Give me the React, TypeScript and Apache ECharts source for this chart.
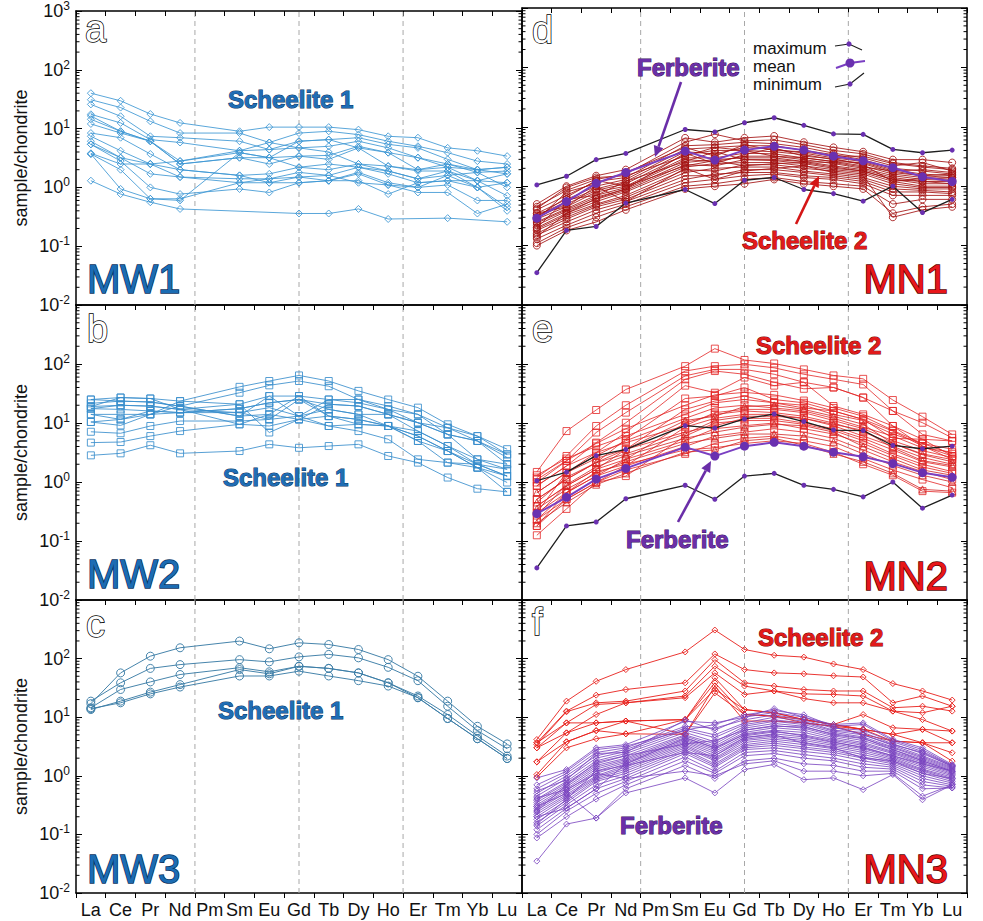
import React, { useEffect, useRef } from "react";
import * as echarts from "echarts";

const CATEGORIES = ["La", "Ce", "Pr", "Nd", "Pm", "Sm", "Eu", "Gd", "Tb", "Dy", "Ho", "Er", "Tm", "Yb", "Lu"];
const Y_MIN = 0.01;
const Y_MAX = 1000;
const DASH_X = [3.5, 7, 10.5];

// (a) MW1 Scheelite 1
const MW1_SCHEELITE = [
  [40, 29.7, 17.7, 12.5, null, 9.0, 10.6, 10.6, 10.6, 9.6, 7.4, 7.0, 4.7, 4.2, 3.4],
  [31, 22.8, 13.3, 8.4, null, 8.4, 5.8, 8.4, 9.0, 7.9, 6.1, 5.0, 3.9, 2.8, 2.5],
  [25.8, 16.2, 7.4, 7.0, null, 6.1, 4.4, 6.1, 6.5, 7.0, 5.4, 4.7, 3.0, 2.0, 2.2],
  [17.5, 12.5, 6.5, 5.8, null, 4.2, 5.8, 4.7, 5.0, 6.1, 4.7, 3.2, 2.5, 1.8, 1.9],
  [16.4, 9.0, 6.1, 2.8, null, 3.9, 3.2, 3.4, 3.5, 5.0, 3.9, 2.0, 2.2, 1.3, 1.7],
  [14.4, 9.0, 6.1, 2.5, null, 3.2, 2.5, 3.4, 3.0, 4.7, 2.3, 1.9, 1.9, 1.0, 1.2],
  [8.4, 7.0, 3.7, 2.0, null, 1.6, 1.7, 2.2, 2.0, 2.5, 1.9, 1.4, 1.6, 1.8, 1.0],
  [7.4, 4.2, 2.5, 1.5, null, 1.4, 1.4, 1.8, 1.6, 2.2, 1.7, 1.2, 1.3, 1.3, 0.72],
  [6.1, 3.2, 1.7, 1.5, null, 1.2, 1.2, 1.5, 1.3, 1.8, 1.2, 1.0, 1.1, 0.6, 0.6],
  [5.4, 2.8, 1.0, 0.77, null, 0.94, 0.82, 1.2, 1.3, 1.7, 1.1, 0.82, 0.82, 0.36, 0.52],
  [3.8, 2.5, 2.5, 2.8, null, 4.2, 4.4, 4.7, 4.0, 2.5, 2.3, 2.0, 2.5, 2.0, 1.7],
  [3.7, 2.0, 0.64, 0.6, null, 3.9, 3.2, 6.1, 6.5, 4.7, 3.9, 3.2, 2.2, 2.0, 2.2],
  [1.3, 0.77, 0.56, 0.43, null, null, null, 0.36, 0.36, 0.43, 0.29, null, 0.3, null, 0.26],
  [5.4, 3.2, 2.5, 2.0, null, 1.6, 1.2, 1.2, 1.3, 1.3, 0.77, 1.2, 1.3, 1.0, 0.46],
  [3.7, 0.94, 0.64, 0.64, null, 1.2, 1.4, 1.5, 1.6, 1.2, 1.1, 1.0, 1.6, 1.0, 0.4],
  [12, 8.4, 6.1, 2.5, null, 3.2, 3.2, 2.2, 2.5, 2.2, 1.9, 1.4, 1.9, 1.3, 1.2],
];

// (b) MW2 Scheelite 1
const MW2_SCHEELITE = [
  [25, 27, 26, 23.5, null, 41, 51.5, 64, 51.5, 35, 25, 18.2, 9.5, 6.0, 3.6],
  [21.5, 23.5, 22.7, 19.3, null, 32.6, 43.5, 51.5, 42, 25, 19.4, 14, 8.3, 4.96, 2.94],
  [19, 20, 19.3, 17, null, 20.8, 28.6, 28.6, 25, 22, 17, 14, 6.4, 4.96, 2.6],
  [17.5, 17, 16, 15, null, 17.5, 22, 25, 20.8, 19.4, 14, 10.1, 6.4, 2.42, 2.0],
  [14, 14, 14, 15, null, 15, 18.2, 13.1, 17, 14, 14, 7.3, 4.07, 2.42, 1.64],
  [10.4, 11.5, 14, 19.3, null, 13.1, 14, 11.5, 13.1, 11.5, 8.9, 6.0, 3.35, 2.0, 1.26],
  [7.1, 6.7, 8.9, 10.8, null, 10.8, 11.5, 13.1, 8.9, 9.5, 8.9, 4.96, 3.35, 1.75, 0.98],
  [4.65, 4.76, 6.0, 7.3, null, 9.5, 8.9, 11.5, 8.9, 7.3, 5.3, 2.42, 2.13, 1.75, 0.68],
  [2.83, 3.06, 4.2, 3.06, null, 3.35, 4.35, 3.8, 4.07, 4.35, 2.76, 2.13, 1.19, 0.77, 0.68],
  [17.5, 20, 19.3, 17, null, 15, 11.5, 25, 17, 14, 8.9, 7.3, 4.07, 2.0, 1.64],
  [25, 23.5, 22.7, 19.3, null, 13.1, 28.6, 13.1, 25, 25, 17, 10.1, 8.3, 6.0, 2.94],
  [10.4, 9.1, 14, 23.5, null, 20.8, 6.9, 11.5, 20.8, 19.4, 14, 10.1, 6.4, 4.96, 2.0],
  [19, 27, 26, 17, null, 9.5, 14, 28.6, 13.1, 9.5, 8.9, 6.0, 3.35, 1.75, 1.26],
  [14, 11.5, 16, 15, null, 17.5, 22, 25, 13.1, 11.5, 8.9, 4.96, 2.13, 2.0, 1.26],
];

// (c) MW3 Scheelite 1
const MW3_SCHEELITE = [
  [17, 57, 110, 153, null, 199, 147, 186, 174, 143, 96, 50, 18.8, 7.0, 3.5],
  [18.8, 38.6, 68, 79, null, 96, 88, 107, 118, 103, 71, 42, 15.4, 5.9, 2.9],
  [14.5, 29.7, 40, 53.5, null, 70, 59.5, 74, 68, 57, 38.6, 23, 11.1, 4.8, 2.17],
  [13.5, 18.8, 26.8, 36, null, 65, 55, 74, 68, 57, 38.6, 21.5, 9.5, 4.3, 1.97],
  [14, 17.6, 25, 32.7, null, 50.5, 50.5, 61, 50.5, 42, 34, 21.5, 9.5, 4.3, 1.97],
];

// (d) MN1 Scheelite 2
const MN1_SCHEELITE2 = [
  [0.5, 1.0, 1.5, 1.9, null, 6.5, 5.5, 6.5, 7.0, 5.5, 4.5, 3.8, 2.8, 2.8, 2.5],
  [0.45, 0.85, 1.3, 1.6, null, 5.5, 7.5, 5.8, 6.0, 5.0, 4.0, 3.5, 2.5, 2.2, 2.0],
  [0.4, 0.7, 1.2, 1.4, null, 4.8, 5.0, 5.5, 5.2, 4.5, 3.6, 3.0, 2.2, 2.5, 1.8],
  [0.35, 0.6, 1.0, 1.3, null, 4.2, 4.5, 4.8, 4.8, 4.0, 3.4, 2.8, 2.0, 1.8, 1.6],
  [0.32, 0.55, 0.9, 1.2, null, 3.8, 3.5, 4.5, 4.2, 3.6, 3.0, 2.6, 1.9, 1.6, 1.5],
  [0.3, 0.5, 0.85, 1.1, null, 3.4, 4.0, 4.0, 3.8, 3.4, 2.8, 2.4, 1.7, 1.5, 1.4],
  [0.28, 0.45, 0.8, 1.0, null, 3.0, 3.0, 3.6, 3.5, 3.0, 2.6, 2.2, 1.6, 1.4, 1.3],
  [0.25, 0.42, 0.7, 0.95, null, 2.8, 2.6, 3.2, 3.2, 2.8, 2.4, 2.0, 1.5, 1.3, 1.25],
  [0.24, 0.4, 0.65, 0.9, null, 2.5, 2.8, 3.0, 3.0, 2.6, 2.2, 1.9, 1.4, 1.2, 1.2],
  [0.22, 0.38, 0.6, 0.85, null, 2.3, 2.2, 2.8, 2.7, 2.4, 2.0, 1.8, 1.3, 1.1, 1.1],
  [0.2, 0.35, 0.55, 0.8, null, 2.1, 2.4, 2.5, 2.5, 2.2, 1.9, 1.7, 1.2, 1.0, 1.0],
  [0.19, 0.33, 0.5, 0.7, null, 1.9, 1.8, 2.3, 2.3, 2.0, 1.8, 1.6, 1.1, 0.95, 0.95],
  [0.18, 0.3, 0.48, 0.65, null, 1.7, 2.0, 2.1, 2.1, 1.8, 1.6, 1.4, 1.0, 0.9, 0.9],
  [0.16, 0.28, 0.45, 0.6, null, 1.5, 1.5, 1.9, 1.9, 1.7, 1.5, 1.3, 0.9, 0.85, 0.8],
  [0.15, 0.25, 0.4, 0.55, null, 1.3, 1.6, 1.7, 1.7, 1.5, 1.4, 1.2, 0.8, 0.8, 0.75],
  [0.13, 0.22, 0.35, 0.5, null, 1.15, 1.3, 1.5, 1.6, 1.4, 1.3, 1.1, 0.7, 0.7, 0.7],
  [0.11, 0.2, 0.3, 0.45, null, 1.0, 1.1, 1.3, 1.4, 1.2, 1.1, 1.0, 0.5, 0.6, 0.6],
  [0.1, 0.18, 0.25, 0.4, null, 0.9, 1.0, 1.1, 1.3, 1.1, 1.0, 0.9, 0.35, 0.45, 0.5],
  [0.42, 0.95, 1.4, 1.5, null, 3.2, 4.5, 4.0, 3.2, 3.0, 2.6, 2.5, 1.8, 1.9, 1.7],
  [0.27, 0.8, 1.1, 1.7, null, 4.5, 3.2, 5.0, 4.0, 3.8, 3.2, 3.2, 2.4, 2.1, 1.9],
  [0.2, 0.6, 0.7, 1.2, null, 2.6, 3.8, 2.8, 2.8, 2.6, 2.5, 2.1, 1.8, 1.5, 1.6],
  [0.35, 0.45, 1.0, 0.55, null, 2.0, 1.3, 1.8, 2.0, 2.2, 1.7, 1.5, 0.3, 0.4, 0.45],
  [0.14, 0.35, 0.62, 0.9, null, 3.6, 2.4, 3.4, 4.4, 3.2, 2.9, 2.3, 1.2, 1.35, 1.4],
  [0.3, 0.65, 1.25, 1.0, null, 2.2, 2.7, 2.2, 2.4, 2.5, 2.1, 1.8, 1.3, 1.2, 1.1],
];

// (e) MN2 Scheelite 2 (squares)
const MN2_SCHEELITE2 = [
  [1.48, 7.3, 16.6, 37, null, 92, 182, 117, 102, 81, 64, 56, 24.5, 12.8, 6.4],
  [1.19, 2.76, 8.9, 20, null, 76, 92, 99, 86, 67, 55, 45, 16, 10.1, 5.6],
  [0.98, 2.27, 6.9, 15, null, 63, 81, 81, 67, 49, 40, 27, 16, 6.4, 4.96],
  [0.86, 1.87, 4.65, 10.1, null, 55, 76, 67, 49, 38, 40, 27, 8.9, 5.3, 4.96],
  [0.66, 1.44, 3.15, 6.9, null, 43, 32.6, 59, 43, 49, 19.4, 14, 8.9, 4.07, 2.76],
  [0.51, 1.11, 2.13, 5.3, null, 26, 28.6, 40, 25, 22, 16, 11.5, 7.3, 4.07, 2.42],
  [0.39, 0.86, 1.64, 3.57, null, 17, 23.5, 28.6, 22, 18, 16, 11.5, 5.5, 5.3, 2.76],
  [1.3, 2.5, 4.0, 6.0, null, 14, 22, 25, 22, 20, 14, 11, 6.5, 4.5, 3.0],
  [0.3, 1.44, 2.8, 5.0, null, 12, 18, 20, 18, 16, 12, 8.5, 6.0, 3.8, 3.2],
  [0.23, 0.66, 1.26, 2.42, null, 10, 14, 16, 15, 13, 10, 7.0, 4.5, 3.0, 2.4],
  [0.18, 0.51, 0.98, 1.87, null, 8.5, 12, 14, 14, 12, 9.0, 6.0, 4.0, 2.6, 2.0],
  [0.125, 0.35, 0.98, 1.26, null, 6.0, 10, 11, 11, 9.5, 7.5, 5.0, 3.0, 2.0, 1.5],
  [0.51, 1.11, 2.13, 3.57, null, 7.0, 9, 12, 12, 10, 8, 5.5, 3.5, 2.2, 1.8],
  [0.39, 0.86, 1.64, 2.42, null, 5.0, 8, 9, 10, 8, 6.5, 4.5, 2.8, 1.8, 1.4],
  [0.3, 0.66, 1.26, 1.87, null, 4.0, 6.0, 7.0, 8.0, 7.0, 5.5, 3.5, 2.2, 1.5, 1.1],
  [0.23, 0.51, 0.98, 1.6, null, 3.0, 4.5, 5.5, 6.0, 5.0, 4.0, 2.5, 1.6, 1.1, 0.8],
  [0.18, 0.66, 1.5, 2.0, null, 3.5, 3.8, 4.5, 5.0, 4.5, 3.2, 2.0, 1.3, 0.7, 0.66],
  [0.86, 1.87, 3.15, 4.65, null, 9.0, 15, 17, 17, 15, 11, 8, 5.0, 3.4, 2.6],
  [1.1, 2.3, 4.5, 8, null, 20, 30, 33, 30, 24, 18, 13, 7.5, 4.5, 3.6],
];
// (e) MN2 Scheelite 2 (triangles)
const MN2_SCHEELITE2_TRI = [
  [0.66, 1.44, 2.5, 3.57, null, 11, 13, 19, 20, 17, 13, 9.5, 4.5, 2.9, 2.2],
  [0.45, 1.2, 2.13, 3.0, null, 6.5, 11, 13, 13, 12, 9.5, 7.5, 3.8, 2.3, 1.9],
  [0.27, 0.9, 1.8, 2.8, null, 5.5, 7.0, 8.5, 9.5, 9.0, 7.0, 4.0, 2.5, 1.6, 1.3],
  [0.35, 0.75, 1.4, 2.2, null, 4.5, 5.5, 6.5, 6.5, 6.0, 4.8, 3.0, 1.9, 1.3, 1.0],
  [0.2, 0.45, 0.9, 1.4, null, 3.2, 3.5, 5.0, 5.5, 4.2, 3.0, 2.2, 1.4, 0.75, 0.7],
];

// (f) MN3 Scheelite 2
const MN3_SCHEELITE2 = [
  [4.16, 18.8, 41, 65, null, 130, 307, 143, 114, 106, 81, 65, 37.5, 28, 19.6],
  [3.66, 12.7, 23.8, 29.7, null, 38.6, 120, 65, 57, 55, 51, 48.5, 17.6, 23, 15.4],
  [3.42, 12.4, 17.6, 18.8, null, 28, 96, 38.6, 34, 29.7, 28, 28, 14.5, 15.4, 12.7],
  [3.0, 8.0, 16.5, 17.6, null, 23, 74, 34, 28, 25, 24.4, 23, 12.7, 11.9, 15.4],
  [1.73, 5.4, 11.1, 17.6, null, 21.5, 57, 24.4, 28, 20.8, 17.6, 17.6, 12.7, 9.1, 5.8],
  [3.66, 8.0, 8.0, 8.6, null, 9.1, 47, 13.5, 11.9, 9.1, 7.5, 11.1, 6.6, 6.2, 5.8],
  [1.05, 3.8, 5.9, 8.6, null, 9.1, 38.6, 11.1, 10.4, 9.1, 7.5, 6.2, 5.1, 3.66, 3.66],
  [0.95, 3.0, 4.3, 5.2, null, 5.1, 34, 8.6, 8.6, 8.0, 7.0, 5.1, 3.9, 3.66, 2.47],
  [3.0, 5.4, 8.0, 8.6, null, 5.1, 26, 11.1, 10.4, 8.0, 7.0, 6.2, 3.9, 3.66, 1.78],
  [1.73, 3.8, 5.9, 5.2, null, 9.1, 30, 13.5, 11.9, 9.1, 7.5, 6.2, 5.1, 6.2, 3.66],
];

// (f) MN3 Ferberite
const MN3_FERBERITE = [
  [0.92, 1.28, 3.0, 3.4, null, 8.5, 8.0, 10, 12, 10, 7.5, 8.0, 4.2, 3.0, 1.56],
  [0.6, 1.1, 2.5, 3.0, null, 7.0, 6.5, 9, 11, 9, 6.5, 6.0, 3.8, 2.6, 1.5],
  [0.5, 1.0, 2.2, 2.8, null, 6.5, 5.0, 8, 10, 8.5, 6.0, 5.5, 3.5, 2.4, 1.45],
  [0.45, 0.9, 2.0, 2.6, null, 6.0, 4.5, 7.5, 9, 8, 5.8, 5.0, 3.3, 2.2, 1.4],
  [0.4, 0.8, 1.8, 2.4, null, 5.5, 3.8, 7, 8.5, 7.5, 5.5, 4.6, 3.1, 2.1, 1.35],
  [0.38, 0.75, 1.6, 2.2, null, 5.0, 3.5, 6.5, 7.8, 7, 5.0, 4.3, 3.0, 2.0, 1.3],
  [0.35, 0.7, 1.5, 2.0, null, 4.8, 3.2, 6.0, 7.2, 6.5, 4.8, 4.0, 2.8, 1.9, 1.25],
  [0.32, 0.65, 1.4, 1.9, null, 4.5, 3.0, 5.5, 6.6, 6.0, 4.5, 3.7, 2.6, 1.8, 1.2],
  [0.3, 0.6, 1.3, 1.8, null, 4.2, 2.8, 5.2, 6.0, 5.5, 4.2, 3.5, 2.5, 1.7, 1.15],
  [0.28, 0.56, 1.2, 1.7, null, 4.0, 2.6, 4.8, 5.6, 5.0, 4.0, 3.3, 2.4, 1.6, 1.1],
  [0.26, 0.52, 1.1, 1.6, null, 3.8, 2.4, 4.5, 5.2, 4.6, 3.7, 3.1, 2.2, 1.5, 1.05],
  [0.24, 0.48, 1.0, 1.5, null, 3.6, 2.2, 4.2, 4.8, 4.3, 3.5, 2.9, 2.1, 1.4, 1.0],
  [0.22, 0.45, 0.95, 1.4, null, 3.4, 2.0, 4.0, 4.5, 4.0, 3.3, 2.7, 2.0, 1.3, 0.95],
  [0.2, 0.42, 0.9, 1.3, null, 3.2, 1.9, 3.7, 4.2, 3.7, 3.1, 2.5, 1.9, 1.25, 0.9],
  [0.18, 0.38, 0.85, 1.2, null, 3.0, 1.8, 3.4, 3.9, 3.4, 2.9, 2.3, 1.8, 1.2, 0.85],
  [0.16, 0.35, 0.8, 1.1, null, 2.8, 1.6, 3.2, 3.6, 3.1, 2.7, 2.1, 1.7, 1.1, 0.8],
  [0.14, 0.32, 0.7, 1.0, null, 2.6, 1.5, 3.0, 3.3, 2.9, 2.5, 2.0, 1.6, 1.0, 0.75],
  [0.12, 0.28, 0.6, 0.9, null, 2.4, 1.4, 2.8, 3.0, 2.6, 2.3, 1.8, 1.5, 0.9, 0.7],
  [0.1, 0.25, 0.5, 0.8, null, 2.1, 1.2, 2.5, 2.7, 2.3, 2.0, 1.6, 1.4, 0.8, 0.66],
  [0.087, 0.2, 0.4, 0.7, null, 1.8, 1.1, 2.2, 2.4, 2.0, 1.8, 1.4, 1.3, 0.7, 0.62],
  [0.035, 0.15, 0.19, 0.6, null, 1.5, 0.9, 1.8, 2.0, 1.6, 1.5, 1.2, 1.2, 0.6, 0.62],
  [0.3, 0.5, 0.19, 0.51, null, 0.92, 0.51, 1.28, 1.56, 0.86, 0.92, 0.58, 1.05, 0.39, 0.7],
  [0.7, 1.2, 2.8, 3.2, null, 6.0, 7.5, 11, 13, 11, 7, 7.5, 4.0, 2.8, 1.5],
  [0.55, 0.85, 2.4, 2.5, null, 9.0, 6.0, 10, 14, 10, 6.8, 5.0, 3.4, 2.5, 1.45],
  [0.25, 0.7, 1.7, 2.2, null, 3.5, 4.0, 6.0, 7.0, 6.8, 5.2, 4.4, 2.8, 1.8, 1.2],
  [0.15, 0.4, 1.2, 1.5, null, 2.5, 2.2, 4.5, 5.0, 3.6, 3.0, 2.0, 1.8, 1.1, 0.9],
  [0.2, 0.28, 0.6, 1.6, null, 4.4, 3.0, 5.0, 5.8, 4.8, 3.8, 3.0, 2.2, 1.6, 1.2],
  [0.42, 0.58, 1.1, 0.9, null, 1.2, 1.0, 1.6, 1.8, 1.2, 1.2, 1.0, 1.1, 0.45, 0.7],
];

// Ferberite statistics (d, e)
const FERBERITE_MAX = [1.05, 1.47, 2.8, 3.56, null, 9.0, 8.2, 11.7, 14.2, 10.6, 7.6, 7.45, 4.16, 3.66, 4.05];
const FERBERITE_MEAN = [0.29, 0.55, 1.12, 1.7, null, 3.9, 2.75, 4.05, 4.7, 4.05, 3.2, 2.68, 2.05, 1.44, 1.2];
const FERBERITE_MIN = [0.035, 0.18, 0.21, 0.52, null, 0.88, 0.51, 1.26, 1.4, 0.88, 0.75, 0.56, 1.0, 0.36, 0.6];

const LEGEND_LABELS = ["maximum", "mean", "minimum"];

const FONT = '"Liberation Sans", Arial, Helvetica, sans-serif';

const GRIDS = [
  { left: 76, top: 8, width: 446, height: 297 },
  { left: 76, top: 305, width: 446, height: 295 },
  { left: 76, top: 600, width: 446, height: 293 },
  { left: 522, top: 8, width: 445, height: 297 },
  { left: 522, top: 305, width: 445, height: 295 },
  { left: 522, top: 600, width: 445, height: 293 },
];

function toPairs(vals: (number | null)[]) {
  const out: number[][] = [];
  vals.forEach((v, i) => {
    if (v != null) out.push([i, v]);
  });
  return out;
}

function minorTickValues() {
  const out: number[] = [];
  for (let k = -2; k <= 2; k++) {
    for (let m = 2; m <= 9; m++) out.push(m * Math.pow(10, k));
  }
  return out;
}

function buildOption() {
  const xAxis: any[] = [];
  const yAxis: any[] = [];
  const series: any[] = [];
  const axisLine = { show: true, onZero: false, lineStyle: { color: "#000", width: 1.5 } };

  GRIDS.forEach((g, i) => {
    const isBottom = i === 2 || i === 5;
    const isLeft = i < 3;
    xAxis.push({
      type: "category",
      gridIndex: i,
      position: "bottom",
      data: CATEGORIES,
      boundaryGap: true,
      axisLine,
      axisTick: { show: true, inside: false, length: 5, lineStyle: { color: "#000", width: 1 } },
      axisLabel: { show: isBottom, interval: 0, fontSize: 18, color: "#111", fontFamily: FONT, margin: 8 },
      splitLine: { show: false },
    });
    xAxis.push({
      type: "category",
      gridIndex: i,
      position: "top",
      data: CATEGORIES,
      boundaryGap: true,
      axisLine,
      axisTick: { show: true, inside: true, length: 5, lineStyle: { color: "#000", width: 1 } },
      axisLabel: { show: false },
      splitLine: { show: false },
    });
    xAxis.push({ type: "value", gridIndex: i, min: -0.5, max: 14.5, show: false });

    yAxis.push({
      type: "log",
      logBase: 10,
      gridIndex: i,
      min: Y_MIN,
      max: Y_MAX,
      position: "left",
      axisLine,
      axisTick: { show: true, inside: true, length: 6, lineStyle: { color: "#000", width: 1 } },
      axisLabel: isLeft
        ? {
            show: true,
            margin: 6,
            showMaxLabel: i === 0,
            formatter: (v: number) => "{b|10}{s|" + Math.round(Math.log10(v)) + "}",
            rich: {
              b: { fontSize: 18, color: "#111", fontFamily: FONT, lineHeight: 22 },
              s: { fontSize: 12, color: "#111", fontFamily: FONT, verticalAlign: "top", lineHeight: 14 },
            },
          }
        : { show: false },
      splitLine: { show: false },
      name: isLeft ? "sample/chondrite" : "",
      nameLocation: "middle",
      nameGap: 46,
      nameRotate: 90,
      nameTextStyle: { fontSize: 18, color: "#111", fontFamily: FONT },
    });
    yAxis.push({
      type: "log",
      logBase: 10,
      gridIndex: i,
      min: Y_MIN,
      max: Y_MAX,
      position: "right",
      axisLine,
      axisTick: { show: true, inside: true, length: 6, lineStyle: { color: "#000", width: 1 } },
      axisLabel: { show: false },
      splitLine: { show: false },
    });

    const xi = i * 3 + 2;
    const yi = i * 2;
    // minor log ticks
    series.push({
      type: "custom",
      xAxisIndex: xi,
      yAxisIndex: yi,
      silent: true,
      clip: false,
      data: minorTickValues().map((v) => [0, v]),
      encode: { x: 0, y: 1 },
      renderItem: (params: any, api: any) => {
        const y = api.coord([0, api.value(1)])[1];
        const cs = params.coordSys;
        return {
          type: "group",
          children: [
            { type: "line", shape: { x1: cs.x, y1: y, x2: cs.x + 3.5, y2: y }, style: { stroke: "#000", lineWidth: 1 } },
            {
              type: "line",
              shape: { x1: cs.x + cs.width, y1: y, x2: cs.x + cs.width - 3.5, y2: y },
              style: { stroke: "#000", lineWidth: 1 },
            },
          ],
        };
      },
    });
    // dashed separators
    DASH_X.forEach((dx) => {
      series.push({
        type: "line",
        xAxisIndex: xi,
        yAxisIndex: yi,
        silent: true,
        symbol: "none",
        data: [
          [dx, Y_MIN],
          [dx, Y_MAX],
        ],
        lineStyle: { color: "#a8a8a8", width: 1, type: [5, 4] },
        z: 1,
      });
    });
  });

  const addLines = (
    grid: number,
    lines: (number | null)[][],
    color: string,
    symbol: string,
    size: number,
    opacity: number
  ) => {
    lines.forEach((vals) => {
      series.push({
        type: "line",
        xAxisIndex: grid * 3 + 2,
        yAxisIndex: grid * 2,
        silent: true,
        data: toPairs(vals),
        symbol,
        symbolSize: size,
        lineStyle: { color, width: 1, opacity },
        itemStyle: { color: "rgba(255,255,255,0)", borderColor: color, borderWidth: 1, opacity },
        z: 3,
      });
    });
  };

  const addStats = (grid: number) => {
    const base = { type: "line", xAxisIndex: grid * 3 + 2, yAxisIndex: grid * 2, silent: true, symbol: "circle", z: 5 };
    series.push({
      ...base,
      data: toPairs(FERBERITE_MAX),
      symbolSize: 5,
      lineStyle: { color: "#1e1e1e", width: 1.3 },
      itemStyle: { color: "#6a30b0" },
    });
    series.push({
      ...base,
      data: toPairs(FERBERITE_MIN),
      symbolSize: 5,
      lineStyle: { color: "#1e1e1e", width: 1.3 },
      itemStyle: { color: "#6a30b0" },
    });
    series.push({
      ...base,
      data: toPairs(FERBERITE_MEAN),
      symbolSize: 9,
      lineStyle: { color: "#7a3fc2", width: 2 },
      itemStyle: { color: "#6a30b0" },
    });
  };

  addLines(0, MW1_SCHEELITE, "#3d97d4", "diamond", 7, 0.85);
  addLines(1, MW2_SCHEELITE, "#3a8ecd", "rect", 7, 0.85);
  addLines(2, MW3_SCHEELITE, "#3c7da6", "circle", 8, 0.95);
  addLines(3, MN1_SCHEELITE2, "#a31212", "circle", 7, 0.85);
  addStats(3);
  addLines(4, MN2_SCHEELITE2, "#e42626", "rect", 7, 0.8);
  addLines(4, MN2_SCHEELITE2_TRI, "#d02424", "triangle", 7, 0.8);
  addStats(4);
  addLines(5, MN3_SCHEELITE2, "#e8201c", "diamond", 6, 0.9);
  addLines(5, MN3_FERBERITE, "#7a44c0", "diamond", 6, 0.82);

  // annotations
  const graphic: any[] = [];
  const txt = (text: string, x: number, y: number, o: any) =>
    graphic.push({
      type: "text",
      x,
      y,
      silent: true,
      z: 100,
      style: { text, fontFamily: FONT, verticalAlign: "middle", align: "left", ...o },
    });

  const letter = { fontSize: 38, fill: "#fff", stroke: "#000", lineWidth: 1.5 };
  txt("a", 85, 29, letter);
  txt("b", 87, 329, letter);
  txt("c", 86, 624, letter);
  txt("d", 532, 30, letter);
  txt("e", 532, 329, letter);
  txt("f", 532, 622, letter);

  const mw = { fontSize: 40, fill: "#1b6cb3", stroke: "#08325e", lineWidth: 1.5 };
  txt("MW1", 87, 279, mw);
  txt("MW2", 87, 574, mw);
  txt("MW3", 87, 869, mw);
  const mn = { fontSize: 40, fill: "#e8161a", stroke: "#5a0000", lineWidth: 1.5, align: "right" };
  txt("MN1", 948, 279, mn);
  txt("MN2", 948, 576, mn);
  txt("MN3", 948, 869, mn);

  const sch1 = { fontSize: 24, fontWeight: "bold", fill: "#1f6db5", stroke: "#0a3560", lineWidth: 1 };
  txt("Scheelite 1", 228, 99, sch1);
  txt("Scheelite 1", 223, 477, sch1);
  txt("Scheelite 1", 218, 710, sch1);
  const sch2 = { fontSize: 24, fontWeight: "bold", fill: "#e21a1a", stroke: "#700000", lineWidth: 1 };
  txt("Scheelite 2", 742, 240, sch2);
  txt("Scheelite 2", 756, 345, sch2);
  txt("Scheelite 2", 758, 637, sch2);
  const fer = { fontSize: 24, fontWeight: "bold", fill: "#6b2fa8", stroke: "#3a1060", lineWidth: 1 };
  txt("Ferberite", 637, 67, fer);
  txt("Ferberite", 626, 539, fer);
  txt("Ferberite", 620, 825, fer);

  const leg = { fontSize: 17, fill: "#111", lineHeight: 16 };
  txt(LEGEND_LABELS[0], 753, 48, leg);
  txt(LEGEND_LABELS[1], 753, 66, leg);
  txt(LEGEND_LABELS[2], 753, 84, leg);

  const poly = (pts: number[][], stroke: string, w: number) =>
    graphic.push({ type: "polyline", silent: true, z: 100, shape: { points: pts }, style: { stroke, lineWidth: w, fill: null } });
  const dot = (cx: number, cy: number, r: number) =>
    graphic.push({ type: "circle", silent: true, z: 101, shape: { cx, cy, r }, style: { fill: "#6a30b0" } });
  poly([[835, 46], [849, 44], [862, 50]], "#1e1e1e", 1.2);
  dot(849, 44, 2.6);
  poly([[836, 68], [850, 63], [865, 61]], "#7a3fc2", 2);
  dot(850, 63, 4.5);
  poly([[835, 87], [850, 84], [864, 73]], "#1e1e1e", 1.2);
  dot(850, 84, 2.6);

  const arrow = (x1: number, y1: number, x2: number, y2: number, color: string, w: number) => {
    const dx = x2 - x1;
    const dy = y2 - y1;
    const len = Math.sqrt(dx * dx + dy * dy);
    const ux = dx / len;
    const uy = dy / len;
    const hl = 11;
    const hw = 5;
    const bx = x2 - ux * hl;
    const by = y2 - uy * hl;
    graphic.push({
      type: "line",
      silent: true,
      z: 100,
      shape: { x1, y1, x2: bx, y2: by },
      style: { stroke: color, lineWidth: w },
    });
    graphic.push({
      type: "polygon",
      silent: true,
      z: 100,
      shape: {
        points: [
          [x2, y2],
          [bx - uy * hw, by + ux * hw],
          [bx + uy * hw, by - ux * hw],
        ],
      },
      style: { fill: color },
    });
  };
  arrow(681, 82, 655, 157, "#6a2ea8", 2.6);
  arrow(796, 224, 819, 176, "#d41616", 2.6);
  arrow(678, 522, 711, 461, "#6a2ea8", 2.6);

  return {
    animation: false,
    backgroundColor: "#fff",
    grid: GRIDS.map((g) => ({ ...g, containLabel: false })),
    xAxis,
    yAxis,
    series,
    graphic,
  };
}

export default function App() {
  const ref = useRef<HTMLDivElement>(null);
  useEffect(() => {
    if (!ref.current) return;
    const chart = echarts.init(ref.current, null, { renderer: "svg" });
    chart.setOption(buildOption() as any);
    return () => chart.dispose();
  }, []);
  return (
    <div
      ref={ref}
      style={{ position: "fixed", left: 0, top: 0, width: 983, height: 921, background: "#fff" }}
    />
  );
}
